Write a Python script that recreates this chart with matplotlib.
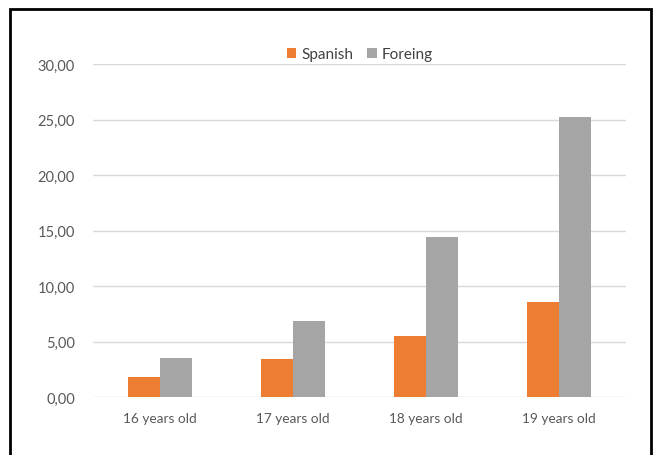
import matplotlib
matplotlib.use("Agg")
import matplotlib.pyplot as plt
from matplotlib.patches import Rectangle
import numpy as np

categories = ["16 years old", "17 years old", "18 years old", "19 years old"]
spanish = [1.80, 3.40, 5.50, 8.55]
foreing = [3.50, 6.85, 14.40, 25.20]
yticks = [0, 5, 10, 15, 20, 25, 30]

plt.rcParams['font.family'] = ['Lato', 'DejaVu Sans']

fig = plt.figure(figsize=(6.59, 4.56), dpi=100)
W, H = 659, 456
ax = fig.add_axes([93 / W, 1 - 398 / H, (626 - 93) / W, (398 - 65) / H])

x = np.arange(len(categories))
w = 0.24
ax.bar(x - w / 2, spanish, w, color="#ED7D31", label="Spanish", zorder=3)
ax.bar(x + w / 2, foreing, w, color="#A5A5A5", label="Foreing", zorder=3)

ax.set_xlim(-0.5, len(categories) - 0.5)
ax.set_ylim(0, 30)
ax.set_yticks(yticks)
ax.set_yticklabels([f"{v:.2f}".replace(".", ",") for v in yticks])
ax.set_xticks(x)
ax.set_xticklabels(categories)
ax.grid(axis="y", color="#D9D9D9", linewidth=1, zorder=0)
for s in ax.spines.values():
    s.set_visible(False)
ax.tick_params(axis="both", length=0, colors="#595959")
ax.tick_params(axis="y", pad=13, labelsize=10.5)
ax.tick_params(axis="x", pad=11, labelsize=9.8)

leg = ax.legend(loc="center", bbox_to_anchor=(0.5, 1 + 10 / 333), ncol=2, frameon=False,
                fontsize=11, handlelength=0.65, handleheight=0.65, handletextpad=0.3,
                columnspacing=0.9, borderaxespad=0, borderpad=0)
for t in leg.get_texts():
    t.set_color("#404040")

fig.patches.append(Rectangle((10 / W, -0.05), (651 - 10) / W, 1 - 10 / H + 0.05,
                             transform=fig.transFigure, fill=False,
                             edgecolor="black", linewidth=2))

fig.savefig("out.png", dpi=100)
